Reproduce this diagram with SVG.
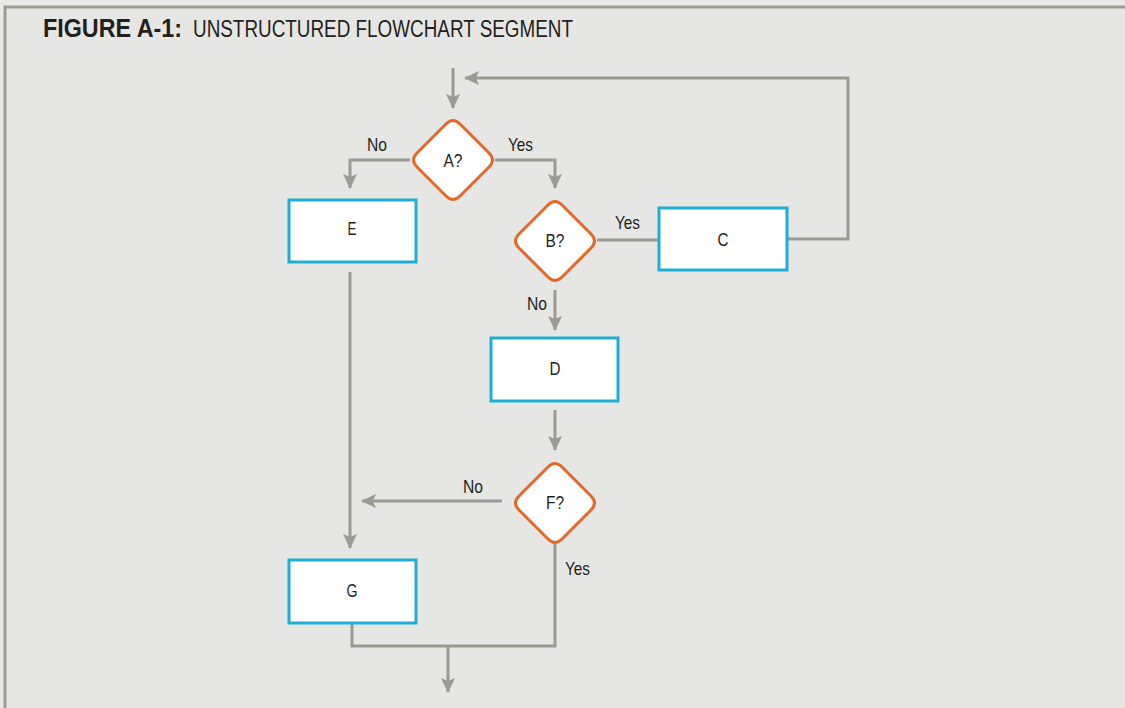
<svg xmlns="http://www.w3.org/2000/svg" width="1125" height="708" viewBox="0 0 1125 708">
<style>
.conn{fill:none;stroke:#9b9b94;stroke-width:3}
.box{fill:#ffffff;stroke:#1eaed3;stroke-width:3}
.dia{fill:#ffffff;stroke:#e2692a;stroke-width:3;stroke-linejoin:round}
.lbl{font-family:"Liberation Sans",Arial,sans-serif;font-size:19px;fill:#231f20}
.nt{font-family:"Liberation Sans",Arial,sans-serif;font-size:19px;fill:#231f20;text-anchor:middle}
.t1{font-family:"Liberation Sans",Arial,sans-serif;font-size:25px;font-weight:bold;fill:#231f20}
.t2{font-family:"Liberation Sans",Arial,sans-serif;font-size:23px;fill:#231f20}
</style>
<defs>
<marker id="ah" viewBox="0 0 16 16" refX="14" refY="8" markerWidth="16" markerHeight="16" markerUnits="userSpaceOnUse" orient="auto">
<path d="M0,1 L15,8 L0,15 L3,8 Z" fill="#9b9b94"/>
</marker>
</defs>
<rect x="0" y="0" width="1125" height="708" fill="#e9e9e8"/>
<rect x="5" y="7" width="1125" height="710" fill="#e6e6e4" stroke="#9b9b94" stroke-width="3"/>
<text class="t1" x="43" y="37" textLength="139" lengthAdjust="spacingAndGlyphs">FIGURE A-1:</text>
<text class="t2" x="193" y="37" textLength="380" lengthAdjust="spacingAndGlyphs">UNSTRUCTURED FLOWCHART SEGMENT</text>
<g id="connectors">
<path class="conn" d="M453,68 V108" marker-end="url(#ah)"/>
<path class="conn" d="M788,239 H848 V78 H465" marker-end="url(#ah)"/>
<path class="conn" d="M410,160 H350 V188" marker-end="url(#ah)"/>
<path class="conn" d="M495,160 H555 V188" marker-end="url(#ah)"/>
<path class="conn" d="M597,240 H659"/>
<path class="conn" d="M555,290 V330" marker-end="url(#ah)"/>
<path class="conn" d="M555,410 V450" marker-end="url(#ah)"/>
<path class="conn" d="M502,501 H362" marker-end="url(#ah)"/>
<path class="conn" d="M350,272 V548" marker-end="url(#ah)"/>
<path class="conn" d="M352,624 V646 H555 V544"/>
<path class="conn" d="M448,646 V692" marker-end="url(#ah)"/>
<text class="lbl" x="367" y="151" textLength="20" lengthAdjust="spacingAndGlyphs">No</text>
<text class="lbl" x="508" y="151" textLength="25" lengthAdjust="spacingAndGlyphs">Yes</text>
<text class="lbl" x="615" y="229" textLength="25" lengthAdjust="spacingAndGlyphs">Yes</text>
<text class="lbl" x="527" y="310" textLength="20" lengthAdjust="spacingAndGlyphs">No</text>
<text class="lbl" x="463" y="493" textLength="20" lengthAdjust="spacingAndGlyphs">No</text>
<text class="lbl" x="565" y="575" textLength="25" lengthAdjust="spacingAndGlyphs">Yes</text>
</g>
<g id="A">
<path class="dia" d="M446,124 Q453,117 460,124 L489,153 Q496,160 489,167 L460,196 Q453,203 446,196 L417,167 Q410,160 417,153 Z"/>
<text class="nt" x="453" y="167" textLength="19" lengthAdjust="spacingAndGlyphs">A?</text>
</g>
<g id="B">
<path class="dia" d="M548,205 Q555,198 562,205 L591,234 Q598,241 591,248 L562,277 Q555,284 548,277 L519,248 Q512,241 519,234 Z"/>
<text class="nt" x="555" y="247" textLength="19" lengthAdjust="spacingAndGlyphs">B?</text>
</g>
<g id="F">
<path class="dia" d="M548,467 Q555,460 562,467 L591,496 Q598,503 591,510 L562,539 Q555,546 548,539 L519,510 Q512,503 519,496 Z"/>
<text class="nt" x="555" y="509" textLength="18" lengthAdjust="spacingAndGlyphs">F?</text>
</g>
<g id="E">
<rect class="box" x="289" y="200" width="127" height="62"/>
<text class="nt" x="352" y="235" textLength="9" lengthAdjust="spacingAndGlyphs">E</text>
</g>
<g id="C">
<rect class="box" x="659" y="208" width="128" height="62"/>
<text class="nt" x="723" y="246" textLength="11" lengthAdjust="spacingAndGlyphs">C</text>
</g>
<g id="D">
<rect class="box" x="491" y="338" width="127" height="63"/>
<text class="nt" x="555" y="375" textLength="11" lengthAdjust="spacingAndGlyphs">D</text>
</g>
<g id="G">
<rect class="box" x="289" y="560" width="127" height="63"/>
<text class="nt" x="352" y="597" textLength="11" lengthAdjust="spacingAndGlyphs">G</text>
</g>
</svg>
